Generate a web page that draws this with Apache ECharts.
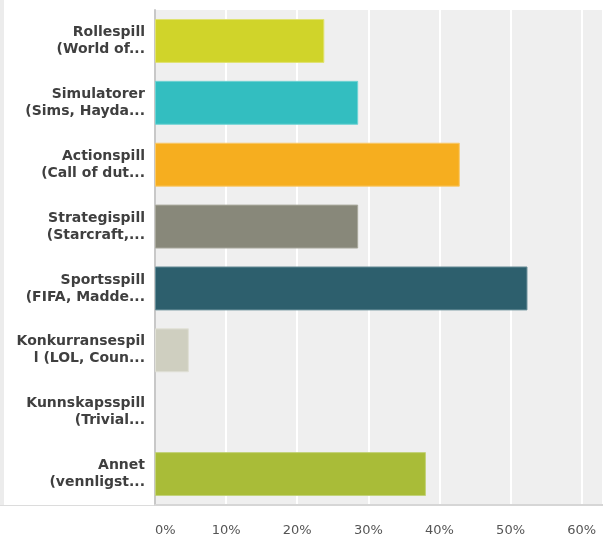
<!DOCTYPE html>
<html>
<head>
<meta charset="utf-8">
<script src="https://cdn.jsdelivr.net/npm/echarts@6/dist/echarts.min.js"></script>
<style>
  html, body { margin: 0; padding: 0; background: #ffffff; }
  #chart { width: 603px; height: 537px; }
</style>
</head>
<body>
<div id="chart"></div>
<script>
// Survey answers: share of respondents per game genre (percent)
const categories = [
  'Rollespill\n(World of...',
  'Simulatorer\n(Sims, Hayda...',
  'Actionspill\n(Call of dut...',
  'Strategispill\n(Starcraft,...',
  'Sportsspill\n(FIFA, Madde...',
  'Konkurransespil\nl (LOL, Coun...',
  'Kunnskapsspill\n(Trivial...',
  'Annet\n(vennligst...'
];
const values = [23.81, 28.57, 42.86, 28.57, 52.38, 4.76, 0, 38.10];
const barColors = ['#d0d42a', '#33bec0', '#f6ae1f', '#88887a', '#2d5f6d', '#cfcfc0', '#c9c9c9', '#a9bc38'];
const barBorders = ['#e0e270', '#6fd2d3', '#f9c868', '#a9a99d', '#6a8f99', '#e0e0d6', '#dddddd', '#c3d27a'];
const tickStep = 10;
const axisMax = 63;

const chart = echarts.init(document.getElementById('chart'), null, { renderer: 'canvas' });

chart.setOption({
  animation: false,
  backgroundColor: '#ffffff',
  graphic: [
    // panel frame: left strip and bottom rule
    { type: 'rect', shape: { x: 0, y: 0, width: 4, height: 505 }, style: { fill: '#ececec' }, z: -1 },
    { type: 'rect', shape: { x: 0, y: 505, width: 155, height: 1 }, style: { fill: '#dcdcdc' }, z: -1 }
  ],
  grid: {
    left: 155,
    right: 0,
    top: 10,
    bottom: 31,
    show: true,
    backgroundColor: '#efefef',
    borderWidth: 0
  },
  xAxis: {
    type: 'value',
    min: 0,
    max: axisMax,
    interval: tickStep,
    axisLine: { show: true, lineStyle: { color: '#d6d6d6', width: 2 } },
    axisTick: { show: false },
    splitLine: { show: true, lineStyle: { color: '#ffffff', width: 2 } },
    axisLabel: {
      showMaxLabel: false,
      alignMinLabel: 'left',
      margin: 19,
      color: '#555555',
      fontFamily: 'DejaVu Sans, Verdana, sans-serif',
      fontSize: 13,
      formatter: v => v + '%'
    }
  },
  yAxis: {
    type: 'category',
    inverse: true,
    data: categories,
    axisLine: { show: true, lineStyle: { color: '#c8c8c8', width: 2 } },
    axisTick: { show: false },
    splitLine: { show: false },
    axisLabel: {
      margin: 10,
      color: '#3f3f3f',
      fontFamily: 'DejaVu Sans, Verdana, sans-serif',
      fontWeight: 'bold',
      fontSize: 14,
      lineHeight: 17,
      align: 'right'
    }
  },
  series: [{
    type: 'bar',
    barCategoryGap: '29%',
    data: values.map((v, i) => ({
      value: v,
      itemStyle: { color: barColors[i], borderColor: barBorders[i], borderWidth: v > 0 ? 1 : 0 }
    })),
    label: { show: false }
  }]
});
</script>
</body>
</html>
